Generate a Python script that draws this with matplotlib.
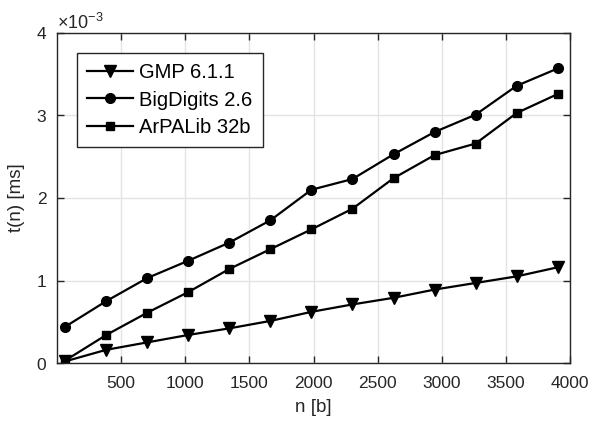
import numpy as np
import matplotlib
matplotlib.use("Agg")
import matplotlib.pyplot as plt
from matplotlib.ticker import ScalarFormatter

plt.rcParams['font.family'] = ['Liberation Sans', 'DejaVu Sans']
plt.rcParams['mathtext.fontset'] = 'custom'
plt.rcParams['mathtext.rm'] = 'Liberation Sans'

n = [64, 384, 704, 1024, 1344, 1664, 1984, 2304, 2624, 2944, 3264, 3584, 3904]
# times in units of 1e-3 ms
gmp = [0.02, 0.16, 0.25, 0.34, 0.42, 0.51, 0.62, 0.71, 0.79, 0.89, 0.97, 1.05, 1.16]
bigdigits = [0.44, 0.75, 1.03, 1.24, 1.46, 1.73, 2.10, 2.23, 2.53, 2.80, 3.01, 3.36, 3.57]
arpalib = [0.03, 0.34, 0.61, 0.86, 1.14, 1.38, 1.62, 1.87, 2.24, 2.52, 2.66, 3.03, 3.26]

fig = plt.figure(figsize=(5.9, 4.28), dpi=100)
ax = fig.add_axes([57/590, 1-363/428, (570-57)/590, (363-33)/428])

scale = 1e-3
ax.plot(n, np.array(gmp)*scale, 'k-v', lw=1.6, ms=8, label='GMP 6.1.1')
ax.plot(n, np.array(bigdigits)*scale, 'k-o', lw=1.6, ms=7, label='BigDigits 2.6')
ax.plot(n, np.array(arpalib)*scale, 'k-s', lw=1.6, ms=6, label='ArPALib 32b')

ax.set_xlim(0, 4000)
ax.set_ylim(0, 4e-3)
ax.set_xticks([500, 1000, 1500, 2000, 2500, 3000, 3500, 4000])
ax.set_yticks([0, 1e-3, 2e-3, 3e-3, 4e-3])
fmt = ScalarFormatter(useMathText=True)
fmt.set_powerlimits((-2, 2))
ax.yaxis.set_major_formatter(fmt)
ax.yaxis.get_offset_text().set_fontsize(13)

ax.grid(True, color='#e3e3e3', lw=1)
ax.set_axisbelow(True)
ax.tick_params(direction='in', top=True, right=True, labelsize=12.5, length=5, width=1, colors='#262626')
ax.tick_params(axis='x', pad=9)
ax.tick_params(axis='y', pad=7)
for s in ax.spines.values():
    s.set_color('#262626')
    s.set_linewidth(1)

ax.set_xlabel('n [b]', fontsize=13.5, color='#262626', labelpad=6)
ax.set_ylabel('t(n) [ms]', fontsize=13.5, color='#262626', labelpad=8)

leg = ax.legend(loc='upper left', bbox_to_anchor=(20/513, 1-20/330), fontsize=14.5,
                frameon=True, fancybox=False, edgecolor='#262626', framealpha=1,
                borderaxespad=0, handlelength=2.3, borderpad=0.5, labelspacing=0.42,
                handletextpad=0.3)
leg.get_frame().set_linewidth(1)

fig.savefig('out.png', dpi=100)
